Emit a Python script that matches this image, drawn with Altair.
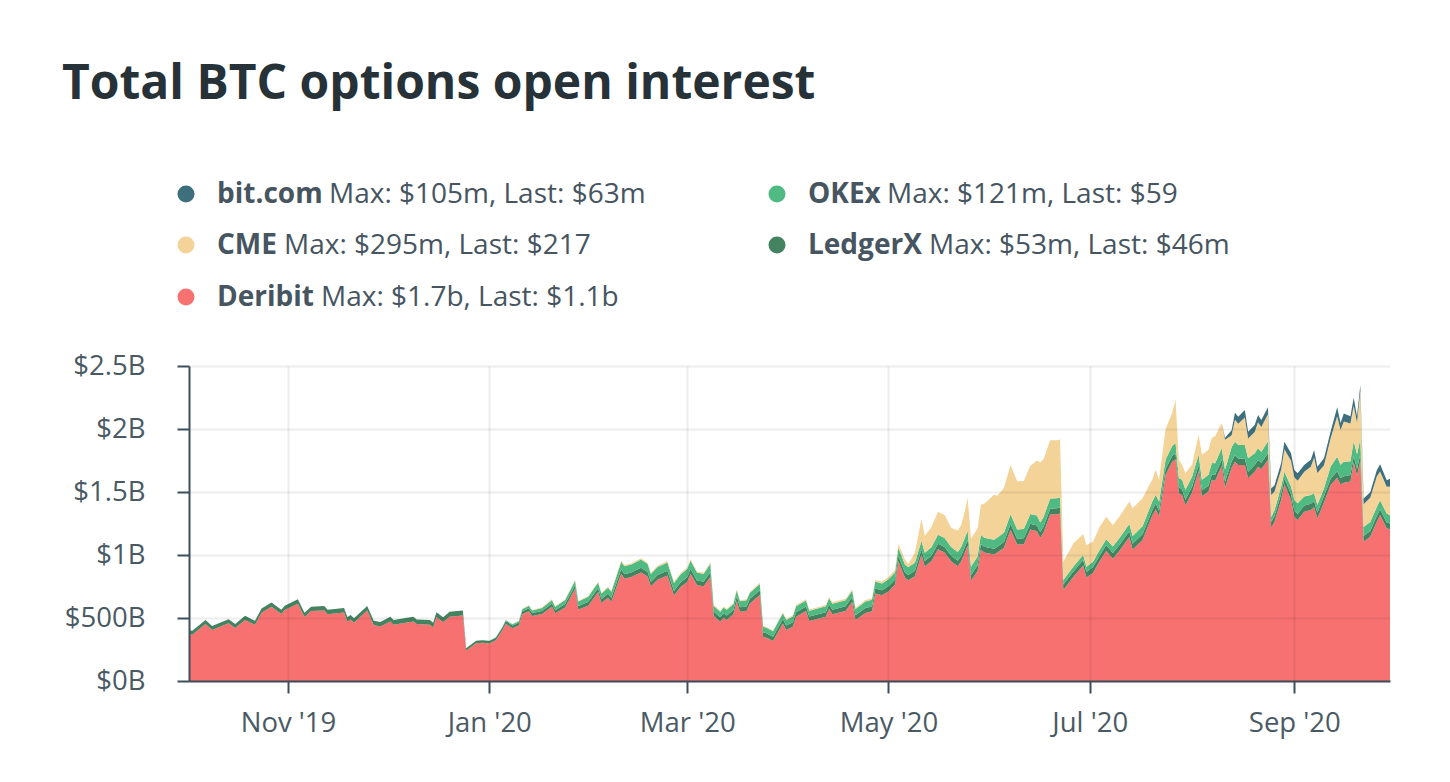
import altair as alt
import pandas as pd

# ---------------- data (values in $ millions) ----------------
dates = [
    "2019-10-02", "2019-10-03", "2019-10-07", "2019-10-09", "2019-10-14", "2019-10-16", "2019-10-19",
    "2019-10-21", "2019-10-22", "2019-10-24", "2019-10-27", "2019-10-30", "2019-10-31", "2019-11-04",
    "2019-11-06", "2019-11-08", "2019-11-12", "2019-11-13", "2019-11-18", "2019-11-19", "2019-11-20",
    "2019-11-21", "2019-11-25", "2019-11-27", "2019-11-29", "2019-12-02", "2019-12-03", "2019-12-09",
    "2019-12-10", "2019-12-14", "2019-12-15", "2019-12-16", "2019-12-18", "2019-12-20", "2019-12-24",
    # late Dec - early Feb
    "2019-12-25", "2019-12-28", "2019-12-30", "2020-01-01", "2020-01-03", "2020-01-05", "2020-01-06",
    "2020-01-08", "2020-01-10", "2020-01-11", "2020-01-13", "2020-01-14", "2020-01-17", "2020-01-20",
    "2020-01-21", "2020-01-24", "2020-01-27", "2020-01-28", "2020-01-31", "2020-02-03", "2020-02-04",
    "2020-02-06", "2020-02-07",
    # Feb - early Mar
    "2020-02-10", "2020-02-11", "2020-02-13", "2020-02-16", "2020-02-18", "2020-02-19", "2020-02-21",
    "2020-02-24", "2020-02-26", "2020-02-28", "2020-03-01", "2020-03-02", "2020-03-04", "2020-03-06",
    "2020-03-08",
    # Mar - early May
    "2020-03-09", "2020-03-11", "2020-03-12", "2020-03-13", "2020-03-15", "2020-03-16", "2020-03-17",
    "2020-03-19", "2020-03-20", "2020-03-23", "2020-03-24", "2020-03-25", "2020-03-27", "2020-03-30",
    "2020-03-31", "2020-04-02", "2020-04-03", "2020-04-06", "2020-04-07", "2020-04-12", "2020-04-13",
    "2020-04-14", "2020-04-18", "2020-04-20", "2020-04-21", "2020-04-24", "2020-04-26", "2020-04-27",
    "2020-04-29", "2020-05-01", "2020-05-03",
    # May - Jun
    "2020-05-04", "2020-05-06", "2020-05-07", "2020-05-09", "2020-05-11", "2020-05-12", "2020-05-14",
    "2020-05-16", "2020-05-18", "2020-05-20", "2020-05-22", "2020-05-23", "2020-05-24", "2020-05-25",
    "2020-05-26", "2020-05-28", "2020-05-29", "2020-05-30", "2020-06-02", "2020-06-03", "2020-06-05",
    "2020-06-07", "2020-06-09", "2020-06-11", "2020-06-13", "2020-06-15", "2020-06-16", "2020-06-17",
    "2020-06-19", "2020-06-21", "2020-06-22",
    # late Jun - Aug
    "2020-06-23", "2020-06-26", "2020-06-29", "2020-06-30", "2020-07-02", "2020-07-04", "2020-07-06",
    "2020-07-08", "2020-07-10", "2020-07-13", "2020-07-14", "2020-07-17", "2020-07-20", "2020-07-21",
    "2020-07-22", "2020-07-24", "2020-07-26", "2020-07-27", "2020-07-28", "2020-07-29", "2020-07-30",
    "2020-08-01", "2020-08-03", "2020-08-04", "2020-08-06", "2020-08-07", "2020-08-08", "2020-08-10",
    "2020-08-11",
    # mid Aug - Sep
    "2020-08-13", "2020-08-14", "2020-08-15", "2020-08-17", "2020-08-18", "2020-08-20", "2020-08-21",
    "2020-08-22", "2020-08-24", "2020-08-25", "2020-08-26", "2020-08-28", "2020-08-29", "2020-08-31",
    "2020-09-01", "2020-09-02", "2020-09-04", "2020-09-06", "2020-09-07", "2020-09-08", "2020-09-10",
    "2020-09-12", "2020-09-14", "2020-09-15", "2020-09-16", "2020-09-18", "2020-09-19", "2020-09-20",
    "2020-09-21", "2020-09-22", "2020-09-24", "2020-09-26", "2020-09-27", "2020-09-29", "2020-09-30",
]

deribit = [
    373, 367, 452, 405, 458, 421, 484, 458, 447, 542, 590, 532, 564, 614, 507, 555, 560, 529, 544, 471,
    489, 463, 560, 444, 433, 472, 446, 472, 452, 446, 425, 507, 467, 510, 520,
    240, 300, 303, 298, 323, 402, 454, 419, 441, 530, 553, 516, 531, 590, 537, 583, 732, 567, 598, 707,
    620, 661, 629,
    852, 812, 825, 862, 830, 751, 804, 838, 679, 746, 786, 852, 759, 751, 825,
    518, 471, 502, 484, 529, 635, 550, 556, 616, 683, 352, 344, 317, 457, 405, 431, 510, 556, 476, 510,
    571, 529, 556, 629, 484, 540, 553, 695, 680, 711, 765,
    951, 819, 800, 832, 1001, 909, 951, 1046, 1020, 951, 911, 948, 1009, 1073, 795, 874, 1043, 1020, 1004,
    1020, 1057, 1200, 1083, 1086, 1202, 1189, 1136, 1178, 1321, 1324, 1330,
    722, 825, 916, 822, 860, 951, 1033, 971, 1034, 1143, 1044, 1120, 1315, 1364, 1306, 1637, 1741, 1760,
    1492, 1475, 1394, 1495, 1667, 1467, 1503, 1595, 1590, 1709, 1534,
    1693, 1741, 1714, 1714, 1609, 1661, 1701, 1680, 1754, 1216, 1264, 1437, 1561, 1437, 1304, 1278, 1344,
    1357, 1379, 1289, 1419, 1556, 1614, 1559, 1574, 1583, 1734, 1630, 1746, 1106, 1145, 1264, 1318, 1212,
    1204,
]

ledgerx = [
    30, 31, 32, 32, 33, 32, 33, 33, 32, 34, 34, 33, 34, 35, 34, 35, 35, 36, 35, 36, 35, 36, 36, 35, 36,
    37, 38, 38, 37, 38, 38, 39, 38, 39, 40,
    20, 20, 20, 20, 20, 22, 22, 22, 24, 24, 24, 24, 25, 25, 25, 28, 28, 28, 30, 30, 30, 32, 32,
    35, 36, 36, 37, 36, 36, 37, 37, 36, 37, 38, 38, 37, 38, 38,
    34, 34, 35, 35, 35, 36, 35, 36, 36, 37, 34, 34, 34, 35, 35, 35, 36, 36, 36, 36, 37, 37, 37, 38, 38,
    39, 39, 40, 40, 41, 41,
    42, 42, 42, 43, 43, 43, 43, 44, 44, 44, 44, 44, 45, 45, 44, 44, 45, 45, 45, 45, 46, 46, 45, 46, 46,
    46, 46, 46, 47, 47, 47,
    43, 43, 44, 44, 44, 44, 44, 44, 45, 45, 45, 45, 45, 45, 45, 46, 46, 46, 45, 45, 45, 46, 46, 46, 46,
    46, 47, 47, 47,
    50, 51, 52, 52, 52, 53, 53, 52, 53, 46, 46, 47, 47, 48, 48, 48, 49, 49, 49, 48, 49, 50, 51, 50, 51,
    51, 52, 52, 53, 45, 45, 46, 46, 46, 46,
]

okex = [
    0, 0, 0, 0, 0, 0, 0, 0, 0, 0, 0, 0, 0, 0, 0, 0, 0, 0, 0, 0, 0, 0, 0, 0, 0, 0, 0, 0, 0, 0, 0, 0, 0, 0, 0,
    0, 0, 2, 2, 4, 6, 8, 10, 12, 16, 20, 20, 24, 28, 28, 32, 36, 36, 40, 44, 44, 48, 48,
    60, 62, 63, 65, 63, 62, 64, 66, 63, 64, 65, 67, 64, 63, 66,
    46, 45, 46, 46, 47, 48, 47, 48, 48, 50, 44, 44, 43, 45, 45, 46, 47, 47, 46, 47, 48, 48, 48, 50, 49,
    52, 52, 54, 54, 55, 56,
    64, 62, 62, 64, 68, 66, 67, 70, 70, 68, 68, 70, 72, 74, 68, 70, 72, 72, 72, 73, 74, 78, 74, 75, 78,
    78, 76, 78, 80, 80, 80,
    36, 38, 40, 41, 43, 45, 48, 52, 55, 59, 61, 64, 67, 69, 71, 74, 79, 83, 75, 77, 79, 80, 83, 85, 88,
    90, 91, 94, 96,
    115, 107, 107, 107, 107, 94, 94, 88, 93, 40, 45, 58, 52, 58, 85, 85, 71, 71, 62, 60, 62, 97, 115, 108,
    115, 110, 118, 116, 119, 71, 71, 71, 71, 71, 65,
]

cme = [
    0, 0, 0, 0, 0, 0, 0, 0, 0, 0, 0, 0, 0, 0, 0, 0, 0, 0, 0, 0, 0, 0, 0, 0, 0, 0, 0, 0, 0, 0, 0, 0, 0, 0, 0,
    0, 0, 0, 0, 0, 0, 0, 2, 2, 4, 4, 4, 5, 6, 6, 6, 6, 6, 6, 7, 7, 8, 8,
    10, 10, 10, 10, 10, 10, 10, 11, 10, 10, 11, 11, 10, 10, 11,
    8, 8, 8, 8, 8, 9, 9, 9, 9, 10, 8, 8, 8, 9, 9, 9, 10, 10, 10, 10, 10, 11, 11, 11, 11, 12, 12, 13, 16,
    18, 21,
    32, 40, 24, 79, 175, 135, 159, 183, 183, 154, 172, 175, 206, 262, 222, 222, 238, 270, 357, 333, 357,
    391, 383, 381, 383, 437, 476, 460, 463, 460, 460,
    145, 186, 167, 172, 159, 185, 179, 172, 171, 177, 222, 222, 175, 198, 175, 244, 262, 344, 143, 119,
    133, 95, 159, 198, 198, 198, 214, 198, 238,
    92, 175, 169, 218, 156, 169, 206, 196, 218, 175, 148, 134, 180, 205, 180, 178, 196, 223, 284, 254,
    183, 223, 322, 276, 319, 299, 280, 254, 384, 181, 193, 242, 228, 213, 228,
]

bitcom = [
    0, 0, 0, 0, 0, 0, 0, 0, 0, 0, 0, 0, 0, 0, 0, 0, 0, 0, 0, 0, 0, 0, 0, 0, 0, 0, 0, 0, 0, 0, 0, 0, 0, 0, 0,
    0, 0, 0, 0, 0, 0, 0, 0, 0, 0, 0, 0, 0, 0, 0, 0, 0, 0, 0, 0, 0, 0, 0,
    0, 0, 0, 0, 0, 0, 0, 0, 0, 0, 0, 0, 0, 0, 0,
    0, 0, 0, 0, 0, 0, 0, 0, 0, 0, 0, 0, 0, 0, 0, 0, 0, 0, 0, 0, 0, 0, 0, 0, 0, 0, 0, 0, 0, 0, 0,
    0, 0, 0, 0, 0, 0, 0, 0, 0, 0, 0, 0, 0, 0, 0, 0, 0, 0, 0, 0, 0, 0, 0, 0, 0, 0, 0, 0, 0, 0, 0,
    0, 0, 0, 0, 0, 0, 0, 0, 0, 0, 0, 0, 0, 0, 0, 0, 0, 0, 0, 0, 0, 0, 0, 0, 0, 0, 0, 0, 15,
    40, 55, 55, 60, 55, 55, 58, 55, 55, 50, 50, 52, 58, 60, 58, 60, 55, 55, 60, 50, 55, 55, 70, 55, 65,
    58, 65, 50, 45, 45, 45, 50, 58, 52, 63,
]

series_names = ["Deribit", "LedgerX", "OKEx", "CME", "bit.com"]
series_colors = ["#f87171", "#44835f", "#4fba82", "#f4d398", "#3e6f7d"]

legend_names = ["bit.com", "CME", "Deribit", "OKEx", "LedgerX"]
legend_info = [
    "Max: $105m, Last: $63m",
    "Max: $295m, Last: $217",
    "Max: $1.7b, Last: $1.1b",
    "Max: $121m, Last: $59",
    "Max: $53m, Last: $46m",
]
legend_colors = ["#3e6f7d", "#f4d398", "#f87171", "#4fba82", "#44835f"]

y_ticks = [0, 500, 1000, 1500, 2000, 2500]
title_text = "Total BTC options open interest"

# ---------------- build ----------------
wide = pd.DataFrame({
    "date": dates,
    "Deribit": deribit,
    "LedgerX": ledgerx,
    "OKEx": okex,
    "CME": cme,
    "bit.com": bitcom,
})
long = wide.melt(id_vars="date", var_name="series", value_name="value")
long["ord"] = long["series"].map({n: i for i, n in enumerate(series_names)})

FONT = "Open Sans"
AXIS_COLOR = "#3d4f5b"
LABEL_COLOR = "#4a5a64"


def dt(y, m, d):
    return alt.DateTime(year=y, month=m, date=d, utc=True)


x_ticks = [dt(2019, 11, 1), dt(2020, 1, 1), dt(2020, 3, 1), dt(2020, 5, 1), dt(2020, 7, 1), dt(2020, 9, 1)]

areas = alt.Chart(long).mark_area(interpolate="linear", opacity=1).encode(
    x=alt.X(
        "date:T",
        title=None,
        scale=alt.Scale(type="utc", domain=[dt(2019, 10, 2), dt(2020, 9, 30)]),
        axis=alt.Axis(
            values=x_ticks,
            labelExpr="utcFormat(datum.value, \"%b '%y\")",
            grid=True,
            gridColor="#000000",
            gridOpacity=0.07,
            gridWidth=2,
            domainColor=AXIS_COLOR,
            domainWidth=2,
            tickColor=AXIS_COLOR,
            tickWidth=2,
            tickSize=12,
            labelColor=LABEL_COLOR,
            labelFont=FONT,
            labelFontSize=27.5,
            labelPadding=16,
            zindex=1,
        ),
    ),
    y=alt.Y(
        "value:Q",
        stack="zero",
        title=None,
        scale=alt.Scale(domain=[0, 2500], nice=False),
        axis=alt.Axis(
            values=y_ticks,
            labelExpr="datum.value == 500 ? '$500B' : '$' + (datum.value / 1000) + 'B'",
            grid=True,
            gridColor="#000000",
            gridOpacity=0.07,
            gridWidth=2,
            domainColor=AXIS_COLOR,
            domainWidth=2,
            tickColor=AXIS_COLOR,
            tickWidth=2,
            tickSize=12,
            labelColor=LABEL_COLOR,
            labelFont=FONT,
            labelFontSize=27.5,
            labelPadding=32,
            zindex=1,
        ),
    ),
    color=alt.Color("series:N", scale=alt.Scale(domain=series_names, range=series_colors), legend=None),
    order=alt.Order("ord:Q", sort="ascending"),
)

one = pd.DataFrame({"k": [0]})

layers = [areas]

title_layer = alt.Chart(one).mark_text(
    font=FONT, fontSize=48, fontWeight="bold", color="#263238", align="left", baseline="alphabetic"
).encode(x=alt.value(-127), y=alt.value(-267), text=alt.value(title_text))
layers.append(title_layer)

# legend layout (pixels relative to the plot area)
circle_x = [-3, -3, -3, 588, 588]
circle_y = [-172, -121, -69, -172, -121]
name_x = [28, 28, 28, 619, 619]
text_y = [-163, -112, -60, -163, -112]
info_x = [140, 95, 132, 698, 740]

for i in range(len(legend_names)):
    layers.append(
        alt.Chart(one).mark_circle(size=290, opacity=1, color=legend_colors[i]).encode(
            x=alt.value(circle_x[i]), y=alt.value(circle_y[i])
        )
    )
    layers.append(
        alt.Chart(one).mark_text(
            font=FONT, fontSize=28, fontWeight="bold", color="#46555f", align="left", baseline="alphabetic"
        ).encode(x=alt.value(name_x[i]), y=alt.value(text_y[i]), text=alt.value(legend_names[i]))
    )
    layers.append(
        alt.Chart(one).mark_text(
            font=FONT, fontSize=28, color="#46555f", align="left", baseline="alphabetic"
        ).encode(x=alt.value(info_x[i]), y=alt.value(text_y[i]), text=alt.value(legend_info[i]))
    )

chart = alt.layer(*layers).properties(
    width=1201,
    height=315,
    autosize=alt.AutoSizeParams(type="none"),
    padding={"left": 181, "top": 358, "right": 50, "bottom": 75},
    background="white",
).configure_view(strokeWidth=0)

chart.save("out.html", embed_options={"renderer": "svg", "actions": False})
